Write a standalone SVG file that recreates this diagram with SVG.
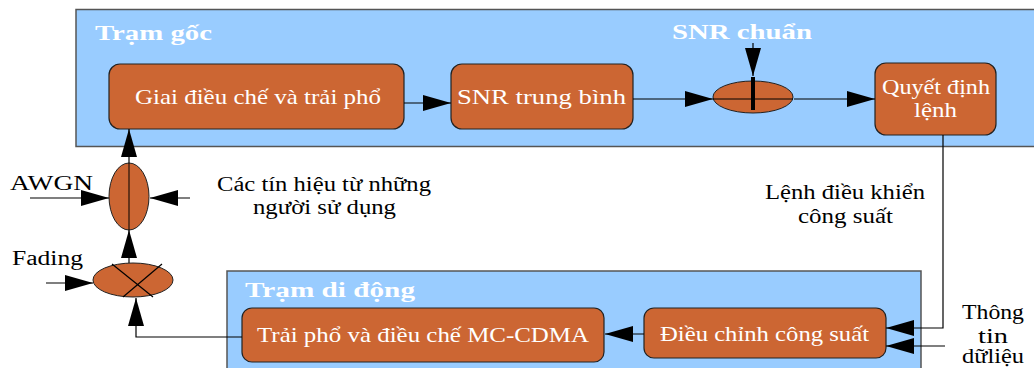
<svg xmlns="http://www.w3.org/2000/svg" width="1034" height="368" viewBox="0 0 1034 368">
  <defs>
    <marker id="arr" viewBox="0 0 28 16" refX="28" refY="8" markerWidth="28" markerHeight="16" markerUnits="userSpaceOnUse" orient="auto">
      <path d="M0,0 L28,8 L0,16 Z" fill="#000"/>
    </marker>
  </defs>
  <style>
    .panel { fill: #99CCFF; stroke: #555; stroke-width: 1.5; }
    .box { fill: #CC6633; stroke: #222; stroke-width: 1.2; }
    .oval { fill: #CC6633; stroke: #222; stroke-width: 1; }
    .title { font-family: "Liberation Serif", serif; font-weight: bold; font-size: 21px; fill: #fff; }
    .btext { font-family: "Liberation Serif", serif; font-size: 21px; fill: #fff; }
    .label { font-family: "Liberation Serif", serif; font-size: 20px; fill: #000; }
    .wire { fill: none; stroke: #000; stroke-width: 1.2; }
    .arrow { fill: none; stroke: #000; stroke-width: 1.2; marker-end: url(#arr); }
  </style>

  <!-- base station panel -->
  <g id="base-station">
    <rect class="panel" x="76" y="9.5" width="970" height="137"/>
    <text class="title" x="95" y="40" textLength="117" lengthAdjust="spacingAndGlyphs">Trạm gốc</text>
    <text class="title" x="672" y="39" textLength="140" lengthAdjust="spacingAndGlyphs">SNR chuẩn</text>
  </g>

  <!-- mobile station panel -->
  <g id="mobile-station">
    <rect class="panel" x="227" y="271" width="694" height="110"/>
    <text class="title" x="245" y="297" textLength="170" lengthAdjust="spacingAndGlyphs">Trạm di động</text>
  </g>

  <g id="despread">
    <rect class="box" x="109" y="64" width="295" height="65" rx="11"/>
    <text class="btext" x="135" y="104" textLength="246" lengthAdjust="spacingAndGlyphs">Giai điều chế và trải phổ</text>
  </g>

  <g id="snr-avg">
    <rect class="box" x="451" y="64" width="182" height="65" rx="11"/>
    <text class="btext" x="457" y="104" textLength="169" lengthAdjust="spacingAndGlyphs">SNR trung bình</text>
  </g>

  <g id="comparator">
    <ellipse class="oval" cx="753" cy="97" rx="40" ry="16"/>
    <line x1="713" y1="99" x2="793" y2="99" stroke="#000" stroke-width="1"/>
    <line x1="753" y1="77" x2="753" y2="110" stroke="#000" stroke-width="4"/>
  </g>

  <g id="decision">
    <rect class="box" x="875" y="63" width="121" height="72" rx="11"/>
    <text class="btext" x="882" y="94" textLength="108" lengthAdjust="spacingAndGlyphs">Quyết định</text>
    <text class="btext" x="914" y="117" textLength="43" lengthAdjust="spacingAndGlyphs">lệnh</text>
  </g>

  <g id="spread-mod">
    <rect class="box" x="242" y="308" width="362" height="54" rx="10"/>
    <text class="btext" x="257" y="342" textLength="332" lengthAdjust="spacingAndGlyphs">Trải phổ và điều chế MC-CDMA</text>
  </g>

  <g id="power-adj">
    <rect class="box" x="644" y="308" width="242" height="50" rx="10"/>
    <text class="btext" x="660" y="341" textLength="209" lengthAdjust="spacingAndGlyphs">Điều chỉnh công suất</text>
  </g>

  <g id="adder">
    <ellipse class="oval" cx="129" cy="196.5" rx="20" ry="33.5"/>
    <line x1="129" y1="163" x2="129" y2="230" stroke="#000" stroke-width="1"/>
  </g>

  <g id="multiplier">
    <ellipse class="oval" cx="133" cy="280" rx="40" ry="17"/>
    <line x1="112" y1="264" x2="153" y2="297" stroke="#000" stroke-width="1.2"/>
    <line x1="162" y1="264" x2="123" y2="297" stroke="#000" stroke-width="1.2"/>
  </g>

  <!-- labels -->
  <g id="labels">
    <text class="label" x="10" y="190" textLength="83" lengthAdjust="spacingAndGlyphs">AWGN</text>
    <text class="label" x="12" y="265" textLength="71" lengthAdjust="spacingAndGlyphs">Fading</text>
    <text class="label" x="217" y="191" textLength="214" lengthAdjust="spacingAndGlyphs">Các tín hiệu từ những</text>
    <text class="label" x="253" y="214" textLength="143" lengthAdjust="spacingAndGlyphs">người sử dụng</text>
    <text class="label" x="765" y="199" textLength="160" lengthAdjust="spacingAndGlyphs">Lệnh điều khiển</text>
    <text class="label" x="798" y="223" textLength="95" lengthAdjust="spacingAndGlyphs">công suất</text>
    <text class="label" x="962" y="319" textLength="62" lengthAdjust="spacingAndGlyphs">Thông</text>
    <text class="label" x="978" y="343" textLength="30" lengthAdjust="spacingAndGlyphs">tin</text>
    <text class="label" x="962" y="363" textLength="62" lengthAdjust="spacingAndGlyphs">dữliệu</text>
  </g>

  <!-- connectors -->
  <g id="connectors">
    <line class="arrow" x1="404" y1="103" x2="451" y2="103"/>
    <line class="arrow" x1="633" y1="99" x2="713" y2="99"/>
    <line class="arrow" x1="794" y1="99" x2="875" y2="99"/>
    <line class="arrow" x1="753" y1="43" x2="753" y2="76"/>
    <polyline class="arrow" points="943,135 943,328 886,328" stroke="#444"/>
    <line class="arrow" x1="945" y1="346" x2="886" y2="346"/>
    <line class="arrow" x1="644" y1="334" x2="605" y2="334"/>
    <polyline class="arrow" points="242,337 136,337 136,298"/>
    <line class="arrow" x1="129" y1="263" x2="129" y2="230"/>
    <line class="arrow" x1="129" y1="163" x2="129" y2="129"/>
    <line class="arrow" x1="30" y1="198" x2="109" y2="198"/>
    <line class="arrow" x1="190" y1="198" x2="150" y2="198"/>
    <line class="arrow" x1="46" y1="283" x2="93" y2="283"/>
  </g>
</svg>
